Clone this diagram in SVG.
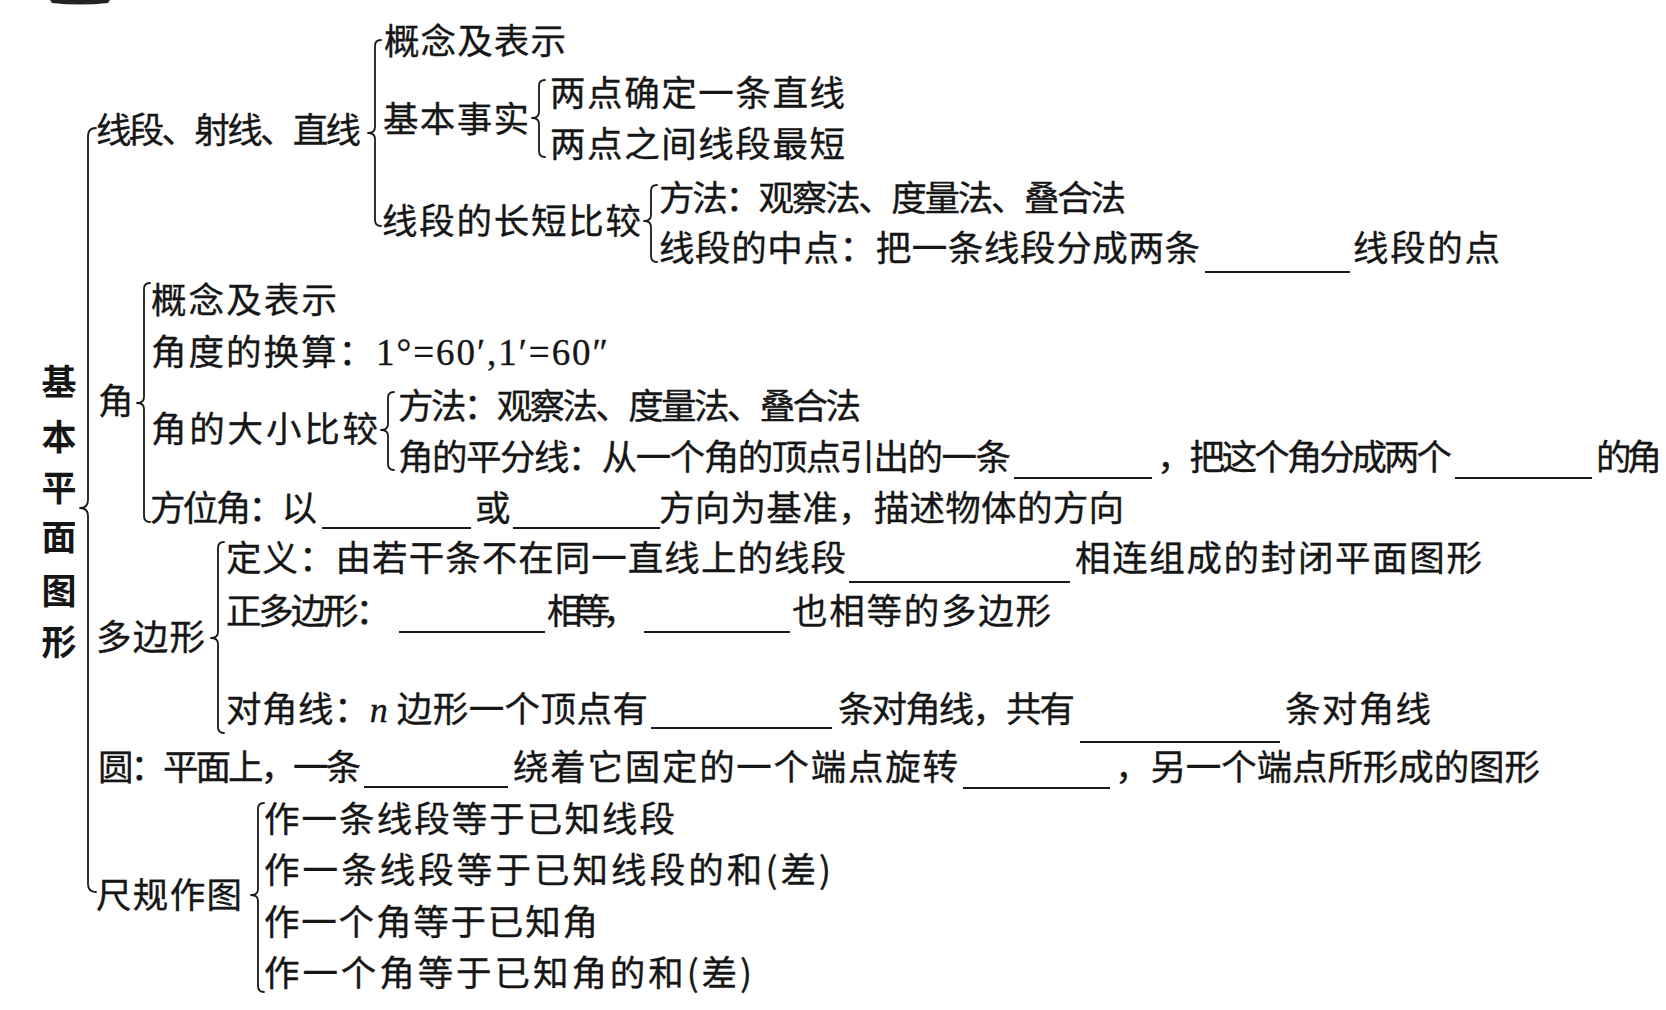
<svg xmlns="http://www.w3.org/2000/svg" width="1666" height="1010" viewBox="0 0 1666 1010">
<defs>
<style>
.t{font-family:"Noto Sans CJK SC","Noto Sans CJK JP",sans-serif;font-size:35.5px;fill:#161616;stroke:#161616;stroke-width:0.35}
.v{font-family:"Noto Sans CJK SC","Noto Sans CJK JP",sans-serif;font-size:35px;font-weight:bold;fill:#161616}
.m{font-family:"Liberation Serif",serif;font-size:37px}
.i{font-family:"Liberation Serif",serif;font-style:italic;font-size:36px}
.b{fill:none;stroke:#1a1a1a;stroke-width:1.8;stroke-linecap:round;stroke-linejoin:round}
.u{stroke:#1a1a1a;stroke-width:2}
</style>
</defs>
<rect width="1666" height="1010" fill="#ffffff"/>
<path d="M50,0 L110,0 L108,3 Q80,6 52,3 Z" fill="#222"/>

<g id="connectors">
<path class="b" d="M96,128 Q88,128 88,136 L88,500 Q88,508 80,508 Q88,508 88,516 L88,884 Q88,892 96,892"/>
<path class="b" d="M381,40 Q375,40 375,46 L375,127 Q375,133 368,133 Q375,133 375,139 L375,220 Q375,226 381,226"/>
<path class="b" d="M545,80 Q539,80 539,86 L539,112 Q539,118 532,118 Q539,118 539,124 L539,151 Q539,157 545,157"/>
<path class="b" d="M657,185 Q651,185 651,191 L651,215 Q651,221 644,221 Q651,221 651,227 L651,256 Q651,262 657,262"/>
<path class="b" d="M150,283 Q144,283 144,289 L144,397 Q144,403 137,403 Q144,403 144,409 L144,516 Q144,522 150,522"/>
<path class="b" d="M394,392 Q388,392 388,398 L388,424 Q388,430 381,430 Q388,430 388,436 L388,464 Q388,470 394,470"/>
<path class="b" d="M224,542 Q218,542 218,548 L218,632 Q218,638 211,638 Q218,638 218,644 L218,727 Q218,733 224,733"/>
<path class="b" d="M264,803 Q258,803 258,809 L258,889 Q258,895 251,895 Q258,895 258,901 L258,986 Q258,992 264,992"/>
</g>

<g id="root">
<text class="v" x="59" y="395" text-anchor="middle">基</text>
<text class="v" x="59" y="450" text-anchor="middle">本</text>
<text class="v" x="59" y="501" text-anchor="middle">平</text>
<text class="v" x="59" y="550" text-anchor="middle">面</text>
<text class="v" x="59" y="604" text-anchor="middle">图</text>
<text class="v" x="59" y="655" text-anchor="middle">形</text>
</g>

<g id="n-line">
<text class="t" x="96" y="143" textLength="265" lengthAdjust="spacing">线段、射线、直线</text>
</g>
<g id="n-line-concept">
<text class="t" x="384" y="54" textLength="182" lengthAdjust="spacing">概念及表示</text>
</g>
<g id="n-basic-fact">
<text class="t" x="383" y="132" textLength="146" lengthAdjust="spacing">基本事实</text>
</g>
<g id="n-fact1">
<text class="t" x="550" y="106" textLength="295" lengthAdjust="spacing">两点确定一条直线</text>
</g>
<g id="n-fact2">
<text class="t" x="550" y="157" textLength="295" lengthAdjust="spacing">两点之间线段最短</text>
</g>
<g id="n-seg-compare">
<text class="t" x="382" y="234" textLength="259" lengthAdjust="spacing">线段的长短比较</text>
</g>
<g id="n-seg-method">
<text class="t" x="659" y="211" textLength="467" lengthAdjust="spacing">方法：观察法、度量法、叠合法</text>
</g>
<g id="n-seg-mid">
<text class="t" x="659" y="261" textLength="541" lengthAdjust="spacing">线段的中点：把一条线段分成两条</text>
<line class="u" x1="1205" y1="272" x2="1350" y2="272"/>
<text class="t" x="1353" y="261" textLength="147" lengthAdjust="spacing">线段的点</text>
</g>

<g id="n-angle">
<text class="t" x="98" y="414">角</text>
</g>
<g id="n-angle-concept">
<text class="t" x="151" y="313" textLength="186" lengthAdjust="spacing">概念及表示</text>
</g>
<g id="n-angle-convert">
<text class="t" x="151" y="365" textLength="457" lengthAdjust="spacing">角度的换算：<tspan class="m">1°=60′,1′=60″</tspan></text>
</g>
<g id="n-angle-compare">
<text class="t" x="151" y="442" textLength="227" lengthAdjust="spacing">角的大小比较</text>
</g>
<g id="n-angle-method">
<text class="t" x="398" y="419" textLength="463" lengthAdjust="spacing">方法：观察法、度量法、叠合法</text>
</g>
<g id="n-angle-bisector">
<text class="t" x="398" y="470" textLength="613" lengthAdjust="spacing">角的平分线：从一个角的顶点引出的一条</text>
<line class="u" x1="1014" y1="478" x2="1152" y2="478"/>
<text class="t" x="1157" y="470" textLength="295" lengthAdjust="spacing">，把这个角分成两个</text>
<line class="u" x1="1455" y1="478" x2="1592" y2="478"/>
<text class="t" x="1596" y="470" textLength="66" lengthAdjust="spacing">的角</text>
</g>
<g id="n-bearing">
<text class="t" x="150" y="521" textLength="167" lengthAdjust="spacing">方位角：以</text>
<line class="u" x1="322" y1="528" x2="471" y2="528"/>
<text class="t" x="475" y="521">或</text>
<line class="u" x1="513" y1="528" x2="660" y2="528"/>
<text class="t" x="659" y="521" textLength="465" lengthAdjust="spacing">方向为基准，描述物体的方向</text>
</g>

<g id="n-polygon">
<text class="t" x="96" y="650" textLength="109" lengthAdjust="spacing">多边形</text>
</g>
<g id="n-poly-def">
<text class="t" x="226" y="571" textLength="620" lengthAdjust="spacing">定义：由若干条不在同一直线上的线段</text>
<line class="u" x1="849" y1="582" x2="1070" y2="582"/>
<text class="t" x="1075" y="571" textLength="407" lengthAdjust="spacing">相连组成的封闭平面图形</text>
</g>
<g id="n-poly-regular">
<text class="t" x="226" y="624" textLength="165" lengthAdjust="spacing">正多边形：</text>
<line class="u" x1="399" y1="632" x2="545" y2="632"/>
<text class="t" x="547" y="624" textLength="91" lengthAdjust="spacing">相等，</text>
<line class="u" x1="644" y1="632" x2="790" y2="632"/>
<text class="t" x="792" y="624" textLength="259" lengthAdjust="spacing">也相等的多边形</text>
</g>
<g id="n-poly-diag">
<text class="t" x="226" y="722" textLength="422" lengthAdjust="spacing">对角线：<tspan class="i">n</tspan> 边形一个顶点有</text>
<line class="u" x1="651" y1="728" x2="832" y2="728"/>
<text class="t" x="838" y="722" textLength="237" lengthAdjust="spacing">条对角线，共有</text>
<line class="u" x1="1080" y1="742" x2="1280" y2="742"/>
<text class="t" x="1285" y="722" textLength="146" lengthAdjust="spacing">条对角线</text>
</g>

<g id="n-circle">
<text class="t" x="98" y="780" textLength="263" lengthAdjust="spacing">圆：平面上，一条</text>
<line class="u" x1="364" y1="787" x2="508" y2="787"/>
<text class="t" x="513" y="780" textLength="445" lengthAdjust="spacing">绕着它固定的一个端点旋转</text>
<line class="u" x1="963" y1="788" x2="1110" y2="788"/>
<text class="t" x="1115" y="780" textLength="425" lengthAdjust="spacing">，另一个端点所形成的图形</text>
</g>

<g id="n-construct">
<text class="t" x="96" y="908" textLength="146" lengthAdjust="spacing">尺规作图</text>
</g>
<g id="n-con1">
<text class="t" x="264" y="832" textLength="411" lengthAdjust="spacing">作一条线段等于已知线段</text>
</g>
<g id="n-con2">
<text class="t" x="264" y="883" textLength="567" lengthAdjust="spacing">作一条线段等于已知线段的和(差)</text>
</g>
<g id="n-con3">
<text class="t" x="264" y="935" textLength="334" lengthAdjust="spacing">作一个角等于已知角</text>
</g>
<g id="n-con4">
<text class="t" x="264" y="986" textLength="488" lengthAdjust="spacing">作一个角等于已知角的和(差)</text>
</g>
</svg>
